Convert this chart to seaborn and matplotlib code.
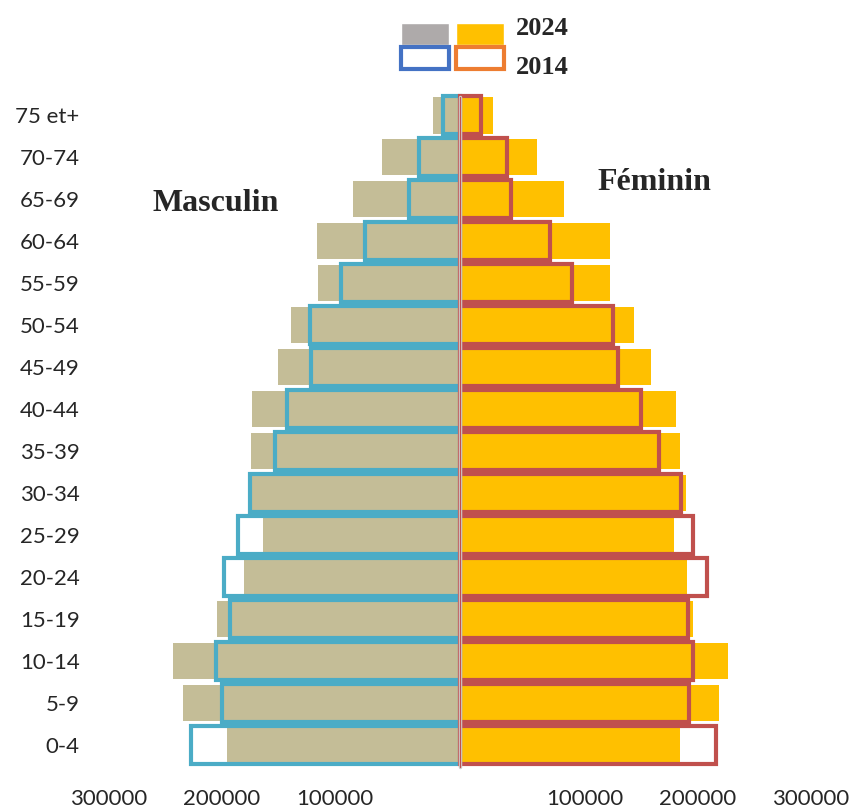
import numpy as np
import seaborn as sns
import matplotlib.pyplot as plt
import matplotlib.transforms as mtransforms
from matplotlib.patches import Patch
from matplotlib.legend_handler import HandlerTuple

sns.set_style("white")
plt.rcParams['font.family'] = ['Lato', 'DejaVu Sans']

# age groups, top to bottom
ages = ['75 et+', '70-74', '65-69', '60-64', '55-59', '50-54', '45-49', '40-44',
        '35-39', '30-34', '25-29', '20-24', '15-19', '10-14', '5-9', '0-4']

masc_2024 = [23900, 69000, 94700, 126500, 125700, 149600, 161100, 184100,
             185000, 185000, 174300, 191200, 215000, 254000, 245100, 206200]
masc_2014 = [15000, 36300, 45100, 84100, 105300, 132700, 131900, 153100,
             163700, 186000, 196500, 208800, 203500, 215900, 210600, 238100]
fem_2024 = [29200, 68100, 92000, 132700, 132700, 154000, 169000, 191200,
            194700, 200000, 189400, 200900, 206200, 237200, 229200, 194700]
fem_2014 = [18600, 41600, 45100, 79600, 99100, 135400, 139800, 160200,
            176100, 195600, 206200, 218600, 201800, 206200, 202700, 226500]

xticks = [-300000, -200000, -100000, 100000, 200000, 300000]

fig = plt.figure(figsize=(8.56, 8.09), dpi=100)
ax = fig.add_axes([88/856, 34/809, 762/856, 685/809])

# filled bars = 2024
sns.barplot(x=-np.array(masc_2024), y=ages, order=ages, orient='h', color='#C4BD97',
            width=0.86, linewidth=0, saturation=1, errorbar=None, ax=ax)
sns.barplot(x=fem_2024, y=ages, order=ages, orient='h', color='#FFC000',
            width=0.86, linewidth=0, saturation=1, errorbar=None, ax=ax)

# outlines = 2014
sns.barplot(x=-np.array(masc_2014), y=ages, order=ages, orient='h', color='#4BACC6',
            fill=False, width=0.905, linewidth=3, saturation=1, errorbar=None, ax=ax)
sns.barplot(x=fem_2014, y=ages, order=ages, orient='h', color='#C0504D',
            fill=False, width=0.905, linewidth=3, saturation=1, errorbar=None, ax=ax)

ax.axvline(0, ymin=0.012, ymax=0.99, color='#D0CECE', lw=2.5, zorder=5)
ax.axvline(0, ymin=0.012, ymax=0.99, color='#C0504D', lw=0.9, zorder=6)

ax.set_xlim(-329200, 345100)
ax.set_ylim(15.715, -0.607)
ax.set_xlabel('')
ax.set_ylabel('')
sns.despine(ax=ax, left=True, bottom=True)

ax.set_xticks(xticks)
ax.set_xticklabels([str(abs(v)) for v in xticks], fontsize=16)
ax.tick_params(axis='x', length=0, pad=10)
ax.tick_params(axis='y', length=0, pad=6, labelsize=16)

# push tick labels out from the centre a little
for lab, v in zip(ax.get_xticklabels(), xticks):
    dx = -8.6 if v < 0 else 8.6
    lab.set_transform(lab.get_transform() + mtransforms.ScaledTranslation(dx/72, 0, fig.dpi_scale_trans))

fig.text(0.252, 0.749, 'Masculin', fontsize=23, fontweight='bold', family='Liberation Serif',
         ha='center', va='center')
fig.text(0.765, 0.774, 'Féminin', fontsize=23, fontweight='bold', family='Liberation Serif',
         ha='center', va='center')

handles = [(Patch(facecolor='#AEAAAA'), Patch(facecolor='#FFC000')),
           (Patch(facecolor='white', edgecolor='#4472C4', lw=3),
            Patch(facecolor='white', edgecolor='#ED7D31', lw=3))]
leg = fig.legend(handles, ['2024', '2014'], handler_map={tuple: HandlerTuple(ndivide=None, pad=0.25)},
                 loc='upper left', bbox_to_anchor=(388/856, 1 - 10/809), frameon=False,
                 borderpad=0, handlelength=3.9, handleheight=0.9, labelspacing=-0.05,
                 handletextpad=0.45, prop={'family': 'Liberation Serif', 'weight': 'bold', 'size': 19})
# labels sit further apart than the boxes
for t, dy in zip(leg.get_texts(), [0.08, -0.075]):
    t.set_transform(t.get_transform() + mtransforms.ScaledTranslation(0, dy, fig.dpi_scale_trans))

fig.savefig('out.png', dpi=100)
